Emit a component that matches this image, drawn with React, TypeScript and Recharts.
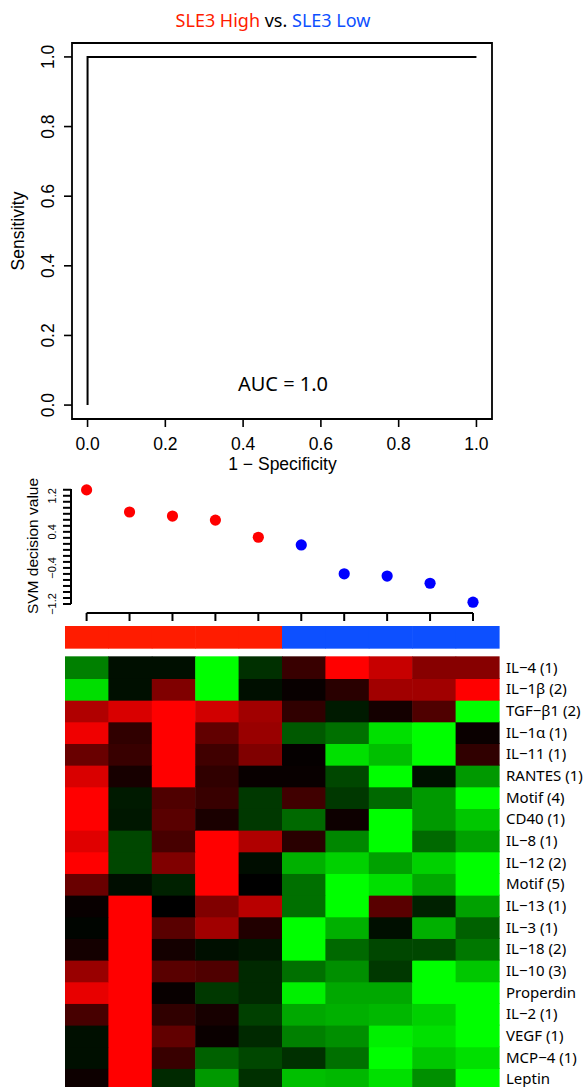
import React from 'react';
import {
  LineChart, Line, XAxis, YAxis, ReferenceArea, ScatterChart, Scatter,
  ReferenceLine, BarChart, Bar,
} from 'recharts';

// ---------- ROC panel ----------
const rocPoints = [
  { fpr: 0, tpr: 0 },
  { fpr: 0, tpr: 1 },
  { fpr: 1, tpr: 1 },
];
const rocTicks = [0, 0.2, 0.4, 0.6, 0.8, 1.0];
const aucLabel = 'AUC = 1.0';

// ---------- SVM decision values ----------
const sampleIndex = [1, 2, 3, 4, 5, 6, 7, 8, 9, 10];
const svmValues = [1.33, 0.84, 0.75, 0.66, 0.28, 0.11, -0.53, -0.58, -0.74, -1.16];
const sampleClass = ['High', 'High', 'High', 'High', 'High', 'Low', 'Low', 'Low', 'Low', 'Low'];
const svmTicks = [-1.2, -1.0667, -0.9333, -0.8, -0.6667, -0.5333, -0.4, -0.2667, -0.1333, 0,
  0.1333, 0.2667, 0.4, 0.5333, 0.6667, 0.8, 0.9333, 1.0667, 1.2, 1.3333];
const svmTickLabels = [1.2, 0.4, -0.4, -1.2];

// ---------- heatmap ----------
const rowLabels = [
  'IL\u22124 (1)', 'IL\u22121\u03b2 (2)', 'TGF\u2212\u03b21 (2)', 'IL\u22121\u03b1 (1)', 'IL\u221211 (1)',
  'RANTES (1)', 'Motif (4)', 'CD40 (1)', 'IL\u22128 (1)', 'IL\u221212 (2)',
  'Motif (5)', 'IL\u221213 (1)', 'IL\u22123 (1)', 'IL\u221218 (2)', 'IL\u221210 (3)',
  'Properdin', 'IL\u22122 (1)', 'VEGF (1)', 'MCP\u22124 (1)', 'Leptin',
];
const heatValues = [
  [-0.50, -0.06, -0.06, -1.00, -0.19, 0.22, 1.00, 0.78, 0.53, 0.53],
  [-0.87, -0.06, 0.50, -1.00, -0.06, 0.03, 0.16, 0.63, 0.63, 1.00],
  [0.69, 0.85, 1.00, 0.82, 0.63, 0.19, -0.10, 0.08, 0.31, -1.00],
  [0.94, 0.19, 1.00, 0.38, 0.60, -0.35, -0.44, -0.88, -1.00, 0.04],
  [0.41, 0.22, 1.00, 0.25, 0.50, 0.02, -0.88, -0.75, -1.00, 0.19],
  [0.85, 0.09, 1.00, 0.19, 0.03, 0.03, -0.28, -1.00, -0.06, -0.60],
  [1.00, -0.10, 0.31, 0.22, -0.22, 0.25, -0.22, -0.41, -0.60, -1.00],
  [1.00, -0.09, 0.35, 0.10, -0.22, -0.41, 0.05, -1.00, -0.60, -0.78],
  [0.88, -0.28, 0.28, 1.00, 0.69, 0.16, -0.53, -1.00, -0.41, -0.63],
  [1.00, -0.28, 0.50, 1.00, -0.05, -0.69, -0.82, -0.63, -0.82, -1.00],
  [0.41, -0.05, -0.13, 1.00, 0.00, -0.44, -1.00, -0.88, -0.66, -1.00],
  [0.03, 1.00, 0.00, 0.50, 0.72, -0.44, -1.00, 0.35, -0.13, -0.63],
  [-0.02, 1.00, 0.35, 0.63, 0.13, -1.00, -0.69, -0.06, -0.69, -0.38],
  [0.08, 1.00, 0.08, -0.06, -0.09, -1.00, -0.41, -0.28, -0.28, -0.47],
  [0.60, 1.00, 0.35, 0.31, -0.16, -0.44, -0.56, -0.22, -1.00, -0.78],
  [0.91, 1.00, 0.03, -0.22, -0.16, -0.94, -0.66, -0.66, -1.00, -1.00],
  [0.28, 1.00, 0.19, 0.09, -0.25, -0.66, -0.69, -0.72, -0.82, -1.00],
  [-0.06, 1.00, 0.38, 0.04, -0.16, -0.50, -0.56, -0.94, -0.88, -1.00],
  [-0.06, 1.00, 0.22, -0.38, -0.28, -0.19, -0.44, -1.00, -0.78, -0.88],
  [0.05, 1.00, -0.16, -0.60, -0.19, -0.75, -0.72, -0.88, -0.56, -1.00],
];

const HIGH_COLOR = '#ff1c00';
const LOW_COLOR = '#0d50ff';
const DOT_HIGH = '#ff0000';
const DOT_LOW = '#0000ff';
const R_FONT = '"Liberation Sans", Arial, sans-serif';
const M_FONT = '"Noto Sans", "Open Sans", sans-serif';

const heatColor = (v: number) =>
  v >= 0 ? `rgb(${Math.round(255 * v)},0,0)` : `rgb(0,${Math.round(-255 * v)},0)`;

const fmt = (v: number) => (v < 0 ? '\u2212' + Math.abs(v).toFixed(1) : v.toFixed(1));

// ---------- tick components ----------
const RocXTick = (props: any) => {
  const { x, y, payload } = props;
  return (
    <text x={x} y={y} dy={23} textAnchor="middle" fontFamily={R_FONT} fontSize={17.5} fill="#000">
      {payload.value.toFixed(1)}
    </text>
  );
};
const RocYTick = (props: any) => {
  const { x, y, payload } = props;
  const bx = x - 10;
  return (
    <text x={bx} y={y} textAnchor="middle" transform={`rotate(-90, ${bx}, ${y})`}
      fontFamily={R_FONT} fontSize={17.5} fill="#000">
      {payload.value.toFixed(1)}
    </text>
  );
};
const SvmYTick = (props: any) => {
  const { x, y, payload } = props;
  const show = svmTickLabels.some((t) => Math.abs(t - payload.value) < 1e-3);
  if (!show) return <g />;
  const bx = x - 7;
  return (
    <text x={bx} y={y} textAnchor="middle" transform={`rotate(-90, ${bx}, ${y})`}
      fontFamily={R_FONT} fontSize={11} fill="#000">
      {fmt(payload.value)}
    </text>
  );
};
const SvmXTick = (props: any) => {
  const { x, y } = props;
  return <line x1={x} x2={x} y1={y + 9} y2={y + 17} stroke="#000" strokeWidth={2} />;
};
const RowLabelTick = (props: any) => {
  const { x, y, payload } = props;
  return (
    <text x={x} y={y} dy="0.36em" textAnchor="start" fontFamily={M_FONT} fontSize={15} fill="#000">
      {rowLabels[Math.round(19.5 - payload.value)]}
    </text>
  );
};

// cell drawn slightly oversized so neighbouring cells overlap (no hairline seams)
const makeCellShape = (colorOf: (col: number) => string) => (p: any) => (
  <rect x={p.x} y={p.y} width={p.width + 1} height={p.height + 1} fill={colorOf(p.index)} />
);

const layer: React.CSSProperties = { position: 'absolute', left: 0, top: 0 };

export default function App() {
  const svmData = sampleIndex.map((i, k) => ({
    idx: i,
    val: svmValues[k],
    fill: sampleClass[k] === 'High' ? DOT_HIGH : DOT_LOW,
  }));

  const nRows = rowLabels.length;
  const heatData = sampleIndex.map((i) => {
    const row: any = { col: i, gap: 0.4, cls: 1 };
    for (let r = 0; r < nRows; r++) row[`h${r}`] = 1;
    return row;
  });
  const rowCenters = rowLabels.map((_, r) => 19.5 - r);
  const stackOrder = rowLabels.map((_, r) => nRows - 1 - r);

  return (
    <div style={{ position: 'absolute', left: 0, top: 0, width: 588, height: 1087, overflow: 'hidden', background: '#fff' }}>
      {/* ROC */}
      <div style={layer}>
        <LineChart width={588} height={480} data={rocPoints}
          margin={{ top: 43, right: 96, bottom: 0, left: 0 }}>
          <XAxis type="number" dataKey="fpr" domain={[-0.04, 1.04]} ticks={rocTicks} interval={0}
            axisLine={false} tickSize={8} tickMargin={0} height={61}
            tickLine={{ stroke: '#000', strokeWidth: 1.6 }} tick={<RocXTick />} />
          <YAxis type="number" dataKey="tpr" domain={[-0.04, 1.04]} ticks={rocTicks} interval={0}
            axisLine={false} tickSize={8} tickMargin={0} width={72}
            tickLine={{ stroke: '#000', strokeWidth: 1.6 }} tick={<RocYTick />} />
          <ReferenceArea x1={-0.04} x2={1.04} y1={-0.04} y2={1.04} fill="none" fillOpacity={0}
            stroke="#000" strokeWidth={1.8} ifOverflow="visible" />
          <Line type="linear" dataKey="tpr" stroke="#000" strokeWidth={2} dot={false}
            isAnimationActive={false} />
        </LineChart>
      </div>

      {/* SVM decision values */}
      <div style={layer}>
        <ScatterChart width={588} height={1087}
          margin={{ top: 489, right: 115, bottom: 463, left: 0 }}>
          <XAxis type="number" dataKey="idx" domain={[0.6366, 10]} ticks={sampleIndex} interval={0}
            axisLine={false} tickLine={false} tickSize={0} tickMargin={0} height={20}
            tick={<SvmXTick />} />
          <YAxis type="number" dataKey="val" domain={[-1.2, 1.35]} ticks={svmTicks} interval={0}
            width={71} tickSize={8} tickMargin={0}
            axisLine={{ stroke: '#000', strokeWidth: 2 }}
            tickLine={{ stroke: '#000', strokeWidth: 2 }} tick={<SvmYTick />} />
          <ReferenceLine segment={[{ x: 1, y: -1.4 }, { x: 10, y: -1.4 }]} ifOverflow="visible"
            stroke="#000" strokeWidth={2} />
          <Scatter data={svmData} isAnimationActive={false}
            shape={(p: any) => <circle cx={p.cx} cy={p.cy} r={5.6} fill={p.payload.fill} />} />
        </ScatterChart>
      </div>

      {/* class bar + heatmap */}
      <div style={layer}>
        <BarChart width={588} height={1100} data={heatData} barCategoryGap={0} barGap={0}
          margin={{ top: 626, right: 0, bottom: 10.4, left: 65 }}>
          <XAxis dataKey="col" type="category" hide />
          <YAxis type="number" orientation="right" domain={[0, 21.4]} ticks={rowCenters} interval={0}
            width={89} axisLine={false} tickLine={false} tickSize={0} tickMargin={7}
            tick={<RowLabelTick />} />
          {stackOrder.map((r) => (
            <Bar key={`h${r}`} dataKey={`h${r}`} stackId="s" isAnimationActive={false}
              shape={makeCellShape((c) => heatColor(heatValues[r][c]))} />
          ))}
          <Bar dataKey="gap" stackId="s" fill="none" fillOpacity={0} isAnimationActive={false}
            shape={() => <g />} />
          <Bar dataKey="cls" stackId="s" isAnimationActive={false}
            shape={makeCellShape((c) => (sampleClass[c] === 'High' ? HIGH_COLOR : LOW_COLOR))} />
        </BarChart>
      </div>

      {/* titles and axis labels */}
      <svg width={588} height={1087} style={{ ...layer, pointerEvents: 'none' }}>
        <text x={273} y={27} textAnchor="middle" fontFamily={M_FONT} fontSize={18}>
          <tspan fill={HIGH_COLOR}>SLE3 High</tspan>
          <tspan fill="#000"> vs. </tspan>
          <tspan fill={LOW_COLOR}>SLE3 Low</tspan>
        </text>
        <text x={24} y={231} textAnchor="middle" transform="rotate(-90, 24, 231)"
          fontFamily={R_FONT} fontSize={17.5} fill="#000">Sensitivity</text>
        <text x={282.5} y={470} textAnchor="middle" fontFamily={R_FONT} fontSize={17.5} fill="#000">
          1 {'\u2212'} Specificity
        </text>
        <text x={283} y={391} textAnchor="middle" fontFamily={M_FONT} fontSize={20} fill="#000">
          {aucLabel}
        </text>
        <text x={38} y={546} textAnchor="middle" transform="rotate(-90, 38, 546)"
          fontFamily={R_FONT} fontSize={15.5} fill="#000">SVM decision value</text>
      </svg>
    </div>
  );
}
